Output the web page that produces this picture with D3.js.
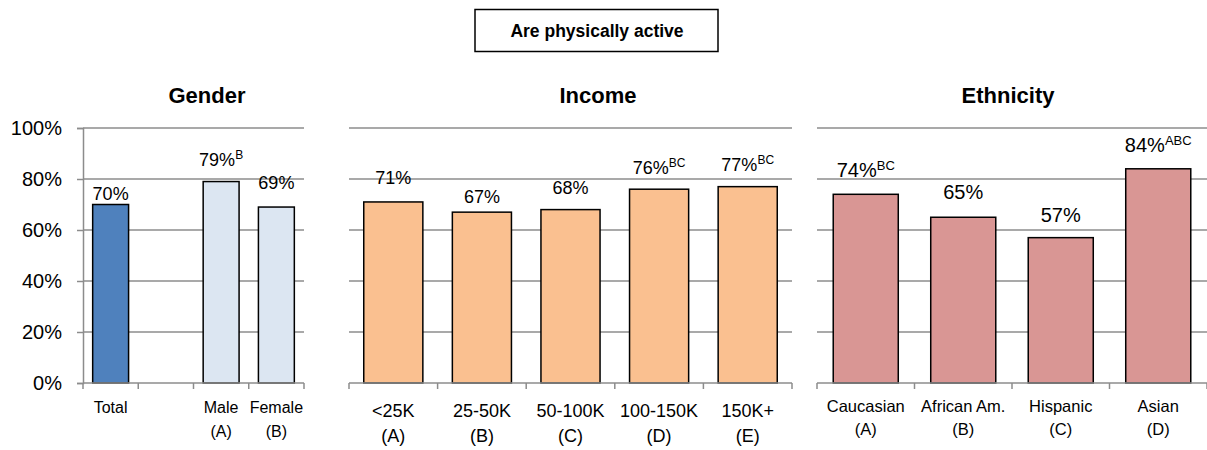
<!DOCTYPE html>
<html>
<head>
<meta charset="utf-8">
<script src="https://cdn.jsdelivr.net/npm/d3@7"></script>
<style>
  html, body { margin: 0; padding: 0; background: #fff; }
  svg { display: block; font-family: "Liberation Sans", Arial, sans-serif; }
</style>
</head>
<body>
<svg id="chart" width="1207" height="450"></svg>
<script>
// ---- data ----
const chartTitle = "Are physically active";
const yTicks = [0, 20, 40, 60, 80, 100];

const genderTitle = "Gender";
const genderCats = ["Total", "", "Male", "Female"];
const genderLetters = ["", "", "(A)", "(B)"];
const genderValues = [70, null, 79, 69];
const genderSig = ["", "", "B", ""];

const incomeTitle = "Income";
const incomeCats = ["<25K", "25-50K", "50-100K", "100-150K", "150K+"];
const incomeLetters = ["(A)", "(B)", "(C)", "(D)", "(E)"];
const incomeValues = [71, 67, 68, 76, 77];
const incomeSig = ["", "", "", "BC", "BC"];

const ethTitle = "Ethnicity";
const ethCats = ["Caucasian", "African Am.", "Hispanic", "Asian"];
const ethLetters = ["(A)", "(B)", "(C)", "(D)"];
const ethValues = [74, 65, 57, 84];
const ethSig = ["BC", "", "", "ABC"];

// ---- layout ----
const svg = d3.select("#chart");
const y = d3.scaleLinear().domain([0, 100]).range([383, 128]);
const gridColor = "#8c8c8c";

// Title box
svg.append("rect").attr("x", 475).attr("y", 9.5).attr("width", 243).attr("height", 42)
  .attr("fill", "#fff").attr("stroke", "#000").attr("stroke-width", 1.5);
svg.append("text").attr("x", 597).attr("y", 37).attr("text-anchor", "middle")
  .attr("font-weight", "bold").attr("font-size", 17.5).text(chartTitle);

const panels = [
  { title: genderTitle, cats: genderCats, letters: genderLetters, values: genderValues, sig: genderSig,
    x0: 83, x1: 304, padding: 0.35, titleX: 207, yAxis: true,
    colors: ["#4F81BD", null, "#DCE6F2", "#DCE6F2"],
    valSize: 18, supSize: 12, catSize: 16, catY: [413, 437],
    nudge: [5, 0, 16, 18] },
  { title: incomeTitle, cats: incomeCats, letters: incomeLetters, values: incomeValues, sig: incomeSig,
    x0: 349, x1: 792, padding: 0.333, titleX: 598, yAxis: false,
    colors: incomeCats.map(() => "#FAC090"),
    valSize: 18, supSize: 12, catSize: 18, catY: [417, 442],
    nudge: [18, 9, 16, 15, 16] },
  { title: ethTitle, cats: ethCats, letters: ethLetters, values: ethValues, sig: ethSig,
    x0: 817, x1: 1207, padding: 0.333, titleX: 1008, yAxis: false,
    colors: ethCats.map(() => "#D99694"),
    valSize: 20, supSize: 13, catSize: 16.5, catY: [412, 435],
    nudge: [17, 18, 16, 17] }
];

panels.forEach(p => {
  const g = svg.append("g");
  const idx = d3.range(p.cats.length);
  const x = d3.scaleBand().domain(idx).range([p.x0, p.x1])
    .paddingInner(p.padding).paddingOuter(p.padding / 2);

  // panel title
  g.append("text").attr("x", p.titleX).attr("y", 103).attr("text-anchor", "middle")
    .attr("font-weight", "bold").attr("font-size", 22).text(p.title);

  // gridlines
  g.selectAll(".grid").data(yTicks.filter(t => t > 0)).join("line")
    .attr("x1", p.x0).attr("x2", p.x1)
    .attr("y1", d => y(d)).attr("y2", d => y(d))
    .attr("stroke", gridColor).attr("stroke-width", 1.5);

  // y axis
  if (p.yAxis) {
    const ax = g.append("g").attr("transform", `translate(${p.x0},0)`)
      .call(d3.axisLeft(y).tickValues(yTicks).tickFormat(d => d + "%").tickSize(6).tickPadding(15));
    ax.select(".domain").attr("stroke", gridColor).attr("stroke-width", 1.5);
    ax.selectAll(".tick line").attr("stroke", gridColor).attr("stroke-width", 1.5);
    ax.selectAll(".tick text").attr("font-size", 20).attr("fill", "#000")
      .attr("font-family", "'Liberation Sans', Arial, sans-serif");
  }

  // bars
  const barData = idx.filter(i => p.values[i] != null);
  g.selectAll(".bar").data(barData).join("rect")
    .attr("x", i => x(i)).attr("width", x.bandwidth())
    .attr("y", i => y(p.values[i])).attr("height", i => y(0) - y(p.values[i]))
    .attr("fill", i => p.colors[i]).attr("stroke", "#000").attr("stroke-width", 1.5);

  // x axis baseline + ticks
  g.append("line").attr("x1", p.x0).attr("x2", p.x1).attr("y1", y(0)).attr("y2", y(0))
    .attr("stroke", gridColor).attr("stroke-width", 1.5);
  const bounds = idx.map(i => x(i) - x.step() * p.padding / 2).concat([p.x1]);
  g.selectAll(".xt").data(bounds).join("line")
    .attr("x1", d => d).attr("x2", d => d).attr("y1", y(0)).attr("y2", y(0) + 6)
    .attr("stroke", gridColor).attr("stroke-width", 1.5);

  // value labels
  const lbl = g.selectAll(".val").data(barData).join("text")
    .attr("x", i => x(i) + x.bandwidth() / 2)
    .attr("y", i => y(p.values[i]) - p.nudge[i])
    .attr("text-anchor", "middle").attr("font-size", p.valSize).attr("fill", "#000");
  lbl.append("tspan").text(i => p.values[i] + "%");
  lbl.filter(i => p.sig[i]).append("tspan")
    .attr("font-size", p.supSize).attr("dy", -7).text(i => p.sig[i]);

  // category labels
  const cl = g.selectAll(".cat").data(idx).join("text")
    .attr("text-anchor", "middle").attr("font-size", p.catSize).attr("fill", "#000");
  cl.append("tspan").attr("x", i => x(i) + x.bandwidth() / 2).attr("y", p.catY[0]).text(i => p.cats[i]);
  cl.append("tspan").attr("x", i => x(i) + x.bandwidth() / 2).attr("y", p.catY[1]).text(i => p.letters[i]);
});
</script>
</body>
</html>
